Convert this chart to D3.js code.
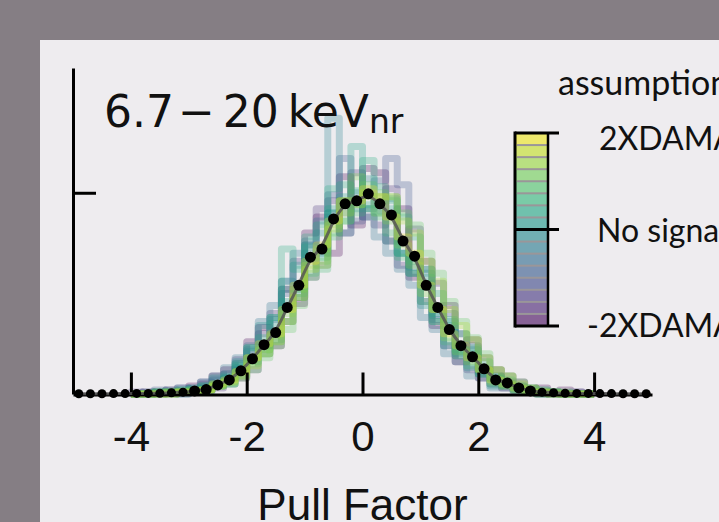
<!DOCTYPE html>
<html>
<head>
<meta charset="utf-8">
<script src="https://cdn.jsdelivr.net/npm/d3@7"></script>
<style>
  html, body { margin: 0; padding: 0; background: #857e84; }
  #chart { width: 719px; height: 522px; }
</style>
</head>
<body>
<div id="chart"></div>
<script>
// Expected pull distribution (dots), one value per 0.2 wide bin
const dotCenters = [-4.9, -4.7, -4.5, -4.3, -4.1, -3.9, -3.7, -3.5, -3.3, -3.1,
                    -2.9, -2.7, -2.5, -2.3, -2.1, -1.9, -1.7, -1.5, -1.3, -1.1,
                    -0.9, -0.7, -0.5, -0.3, -0.1, 0.1, 0.3, 0.5, 0.7, 0.9,
                    1.1, 1.3, 1.5, 1.7, 1.9, 2.1, 2.3, 2.5, 2.7, 2.9,
                    3.1, 3.3, 3.5, 3.7, 3.9, 4.1, 4.3, 4.5, 4.7, 4.9];
const dotValues = [0.1, 0.1, 0.1, 0.2, 0.2, 0.3, 0.3, 0.4, 0.6, 0.9,
                   1.5, 2.2, 4.5, 7, 11.5, 17.5, 24.5, 30.5, 43, 54,
                   68, 72, 87, 94.5, 96, 99.5, 94.5, 89, 76, 68.5,
                   54, 43, 32, 24, 18.5, 12.5, 7, 5.5, 3, 1.5,
                   0.9, 0.6, 0.4, 0.3, 0.3, 0.2, 0.2, 0.1, 0.1, 0.1];

// Pseudo-experiment histograms, bins from -4 to 4
const binWidth = 0.2;
const histCenters = [-3.9, -3.7, -3.5, -3.3, -3.1, -2.9, -2.7, -2.5, -2.3, -2.1,
                     -1.9, -1.7, -1.5, -1.3, -1.1, -0.9, -0.7, -0.5, -0.3, -0.1,
                     0.1, 0.3, 0.5, 0.7, 0.9, 1.1, 1.3, 1.5, 1.7, 1.9,
                     2.1, 2.3, 2.5, 2.7, 2.9, 3.1, 3.3, 3.5, 3.7, 3.9];
const assumptions = [-2, -1.5, -1, -0.5, -0.25, 0, 0.25, 0.5, 0.75, 1, 1.25, 1.5, 2];
const histM200 = [0,1,0,2,1,4,5,9,12,8,26,33,24,52,45,80,88,70,108,84,112,110,76,92,58,66,34,44,16,27,8,12,3,6,1,3,0,2,1,0];
const histM150 = [1,0,1,0,3,1,6,3,10,17,12,30,40,36,66,58,92,96,80,110,88,84,102,64,82,46,55,24,30,12,18,5,9,2,3,0,1,0,0,0];
const histM100 = [0,0,2,1,0,3,2,7,5,15,22,20,37,50,48,74,64,99,117,86,92,106,117,104,60,62,37,40,19,24,10,9,4,4,1,1,0,0,1,0];
const histM050 = [0,1,0,2,3,2,6,9,13,18,24,36,44,56,70,76,86,90,80,96,88,78,70,62,54,38,32,20,16,9,8,3,3,1,1,0,0,0,0,0];
const histM025 = [0,0,1,1,0,2,1,4,8,13,21,24,27,56,52,70,70,137,90,100,107,91,97,70,63,60,39,36,21,22,11,8,5,3,1,2,1,0,0,0];
const histP000 = [0,0,1,1,2,2,4,8,10,16,23,34,38,52,64,74,80,90,96,92,92,90,76,70,60,44,36,24,20,13,10,4,5,2,1,0,1,0,0,0];
const histP025 = [0,0,0,0,1,3,2,5,9,14,16,22,35,46,50,73,68,92,98,123,94,98,92,70,66,58,40,34,22,20,12,8,5,4,1,1,0,0,0,0];
const histP050 = [0,0,1,1,1,2,4,4,8,15,23,28,38,72,62,78,84,102,104,101,116,103,96,88,78,62,50,37,30,23,16,9,7,3,3,1,1,0,0,0];
const histP075 = [0,0,0,1,2,1,2,5,5,9,15,20,26,36,48,60,62,78,86,90,92,88,80,68,60,46,36,26,19,14,10,5,4,2,1,1,0,0,0,0];
const histP100 = [0,0,0,0,1,1,2,4,5,8,12,18,24,32,44,58,66,80,86,94,104,100,98,90,84,70,60,46,36,28,20,12,9,6,3,2,1,1,0,0];
const histP125 = [0,0,1,0,1,2,2,4,6,11,18,22,29,40,52,64,72,84,96,108,98,90,86,74,64,50,42,28,21,16,12,6,4,2,1,0,0,0,0,0];
const histP150 = [0,0,0,1,1,1,2,4,6,9,14,20,26,36,48,62,64,82,90,94,100,98,98,86,80,66,56,42,34,27,18,12,9,5,3,1,1,0,0,0];
const histP200 = [0,0,0,0,1,1,2,5,7,11,18,25,30,42,54,66,74,86,96,96,102,98,88,78,70,54,42,30,24,18,12,7,5,3,1,1,0,0,0,0];
const histograms = [histM200, histM150, histM100, histM050, histM025, histP000,
                    histP025, histP050, histP075, histP100, histP125, histP150, histP200];

// Axis ticks and legend
const xTicks = [-4, -2, 0, 2, 4];
const yTicks = [100];
const legendLevels = [-2, -1.75, -1.5, -1.25, -1, -0.75, -0.5, -0.25, 0,
                      0.25, 0.5, 0.75, 1, 1.25, 1.5, 1.75, 2];
const legendTicks = [-2, 0, 2];
const legendLabels = ["-2XDAMA", "No signal", "2XDAMA"];

const Width = 719, Height = 522;
const svg = d3.select("#chart").append("svg")
    .attr("width", Width)
    .attr("height", Height);

// white panel
svg.append("rect")
    .attr("x", 40).attr("y", 40)
    .attr("width", Width - 40).attr("height", Height - 40)
    .attr("fill", "#eeecef");

const xScale = d3.scaleLinear().domain([-5, 5]).range([73, 652]);
const yScale = d3.scaleLinear().domain([0, 162]).range([394, 68]);
const color = a => d3.interpolateViridis((a + 2) / 4);

// Histograms as step outlines
const stepLine = d3.line().x(d => xScale(d[0])).y(d => yScale(d[1]));
histograms.forEach((h, k) => {
    const pts = [[histCenters[0] - binWidth / 2, 0]];
    h.forEach((v, i) => {
        pts.push([histCenters[i] - binWidth / 2, v]);
        pts.push([histCenters[i] + binWidth / 2, v]);
    });
    pts.push([histCenters[histCenters.length - 1] + binWidth / 2, 0]);
    svg.append("path")
        .attr("d", stepLine(pts))
        .attr("fill", "none")
        .attr("stroke", color(assumptions[k]))
        .attr("stroke-opacity", 0.28)
        .attr("stroke-width", 7)
        .attr("stroke-linejoin", "round");
});

// Add X axis
const xAxis = svg.append("g")
    .attr("transform", `translate(0, ${yScale(0) + 0.5})`)
    .call(d3.axisBottom(xScale).tickValues(xTicks).tickFormat(d => String(d))
        .tickSizeInner(-22).tickSizeOuter(0).tickPadding(27));
xAxis.selectAll("path, line").attr("stroke", "#000").attr("stroke-width", 3);
xAxis.selectAll("text")
    .attr("font-family", "Liberation Sans, Arial, sans-serif")
    .attr("font-size", 42).attr("fill", "#111");

// Add Y axis
const yAxis = svg.append("g")
    .attr("transform", `translate(${xScale(-5)}, 0)`)
    .call(d3.axisLeft(yScale).tickValues(yTicks).tickFormat("")
        .tickSizeInner(-23).tickSizeOuter(0));
yAxis.selectAll("path, line").attr("stroke", "#000").attr("stroke-width", 3);

// Fit line and dots
svg.append("path")
    .attr("d", d3.line().curve(d3.curveBasis)
        .x((d, i) => xScale(dotCenters[i])).y(d => yScale(d))(dotValues))
    .attr("fill", "none")
    .attr("stroke", "#555")
    .attr("stroke-opacity", 0.85)
    .attr("stroke-width", 3);
svg.append("g")
    .selectAll("circle")
    .data(dotValues)
    .join("circle")
    .attr("cx", (d, i) => xScale(dotCenters[i]))
    .attr("cy", d => yScale(d))
    .attr("r", d => d < 1 ? 4.5 : 5.5)
    .attr("fill", "#000");

// Title
const title = svg.append("text")
    .attr("x", 104).attr("y", 127)
    .attr("font-family", "DejaVu Sans, sans-serif")
    .attr("font-size", 44).attr("fill", "#111");
title.append("tspan").text("6.7");
title.append("tspan").attr("dx", 4).text("\u2212");
title.append("tspan").attr("dx", 8).text("20");
title.append("tspan").attr("dx", 9).text("keV");
title.append("tspan").attr("dy", 6).attr("font-size", 33).text("nr");

// X label
svg.append("text")
    .attr("x", xScale(0)).attr("y", 520)
    .attr("text-anchor", "middle")
    .attr("font-family", "Liberation Sans, Arial, sans-serif")
    .attr("font-size", 44).attr("fill", "#111")
    .text("Pull Factor");

// Legend colour bar
const legScale = d3.scaleLinear().domain([-2, 2]).range([326, 133]);
const legX0 = 515, legX1 = 548, legTickX = 559;
const leg = svg.append("g");
leg.selectAll("rect")
    .data(d3.pairs(legendLevels))
    .join("rect")
    .attr("x", legX0).attr("width", legX1 - legX0)
    .attr("y", d => legScale(d[1]))
    .attr("height", d => legScale(d[0]) - legScale(d[1]))
    .attr("fill", d => color((d[0] + d[1]) / 2))
    .attr("fill-opacity", 0.62);
leg.selectAll("line.sep")
    .data(legendLevels.filter(l => !legendTicks.includes(l)))
    .join("line")
    .attr("class", "sep")
    .attr("x1", legX0 + 2).attr("x2", legX1 - 1)
    .attr("y1", d => legScale(d)).attr("y2", d => legScale(d))
    .attr("stroke", "#9a9699").attr("stroke-width", 2);
leg.append("line")
    .attr("x1", legX0).attr("x2", legX0)
    .attr("y1", legScale(2) - 1.5).attr("y2", legScale(-2) + 1.5)
    .attr("stroke", "#000").attr("stroke-width", 3);
leg.append("line")
    .attr("x1", legX1).attr("x2", legX1)
    .attr("y1", legScale(2)).attr("y2", legScale(-2))
    .attr("stroke", "#000").attr("stroke-width", 2.5);
leg.selectAll("line.tick")
    .data(legendTicks)
    .join("line")
    .attr("class", "tick")
    .attr("x1", legX0).attr("x2", legTickX)
    .attr("y1", d => legScale(d)).attr("y2", d => legScale(d))
    .attr("stroke", "#000").attr("stroke-width", 3);

// Legend texts
const legendFont = "Lato, Carlito, sans-serif";
svg.append("text")
    .attr("x", 558).attr("y", 95)
    .attr("font-family", legendFont).attr("font-size", 34).attr("fill", "#111")
    .text("assumption");
svg.selectAll("text.leglab")
    .data(legendTicks)
    .join("text")
    .attr("class", "leglab")
    .attr("x", (d, i) => [587, 597, 599][i])
    .attr("y", (d, i) => legScale(d) + [11, 12, 17][i])
    .attr("font-family", legendFont).attr("font-size", 32).attr("fill", "#111")
    .text((d, i) => legendLabels[i]);
</script>
</body>
</html>
